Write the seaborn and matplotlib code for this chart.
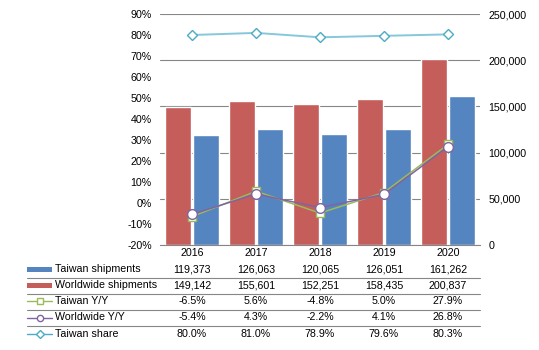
import numpy as np
import pandas as pd
import seaborn as sns
import matplotlib.pyplot as plt
import matplotlib.transforms as mtransforms
from matplotlib.lines import Line2D
from matplotlib.patches import Rectangle
from matplotlib.ticker import FuncFormatter, MultipleLocator

# --- Data ---
years = ["2016", "2017", "2018", "2019", "2020"]
taiwan_shipments = [119373, 126063, 120065, 126051, 161262]
worldwide_shipments = [149142, 155601, 152251, 158435, 200837]
taiwan_yy = [-6.5, 5.6, -4.8, 5.0, 27.9]
worldwide_yy = [-5.4, 4.3, -2.2, 4.1, 26.8]
taiwan_share = [80.0, 81.0, 78.9, 79.6, 80.3]

BLUE = "#5585C0"
RED = "#C55D5A"
GREEN = "#9BBB59"
PURPLE = "#8064A2"
CYAN = "#4BACC6"
CYAN_LINE = "#86C8DA"
GRID = "#868686"

sns.set_theme(style="white")
plt.rcParams['font.family'] = ['Liberation Sans', 'DejaVu Sans']
plt.rcParams['text.color'] = 'black'
plt.rcParams['xtick.color'] = 'black'
plt.rcParams['ytick.color'] = 'black'
FS = 7.7

W, H = 539, 350
fig = plt.figure(figsize=(W / 100, H / 100), dpi=100)
ax = fig.add_axes([160 / W, 1 - 245 / H, 320 / W, 231 / H])

# --- Bars (right-hand scale) ---
bars = pd.DataFrame({
    "year": years * 2,
    "shipments": worldwide_shipments + taiwan_shipments,
    "series": ["Worldwide shipments"] * len(years) + ["Taiwan shipments"] * len(years),
})
sns.barplot(data=bars, x="year", y="shipments", hue="series",
            palette=[RED, BLUE], width=0.88, gap=0.06, saturation=1,
            legend=False, ax=ax)

# twin axis for the percentage lines (twinx moves ax ticks to the left, so do it first)
ax2 = ax.twinx()

ax.set_xlim(-0.5, len(years) - 0.5)
ax.set_ylim(0, 250000)
ax.yaxis.set_major_locator(MultipleLocator(50000))
ax.yaxis.set_major_formatter(FuncFormatter(lambda v, p: f"{v:,.0f}"))
ax.yaxis.tick_right()
ax.yaxis.set_label_position('right')
ax.grid(axis='y', color=GRID, linewidth=0.8)
ax.set_axisbelow(True)
ax.set_xlabel("")
ax.set_ylabel("")
for s in ["top", "left", "right"]:
    ax.spines[s].set_visible(False)
ax.spines["bottom"].set_color(GRID)
ax.spines["bottom"].set_linewidth(0.8)
ax.tick_params(axis='x', length=0, pad=2, labelsize=FS)
ax.tick_params(axis='y', length=0, pad=6, labelsize=FS)

# --- Lines (left-hand percent scale) ---
ax2.yaxis.tick_left()
ax2.yaxis.set_label_position('left')
x = np.arange(len(years))
ax2.plot(x, taiwan_yy, color=GREEN, lw=1.1, marker='s', ms=6,
         mfc='white', mec=GREEN, mew=1)
ax2.plot(x, worldwide_yy, color=PURPLE, lw=1.1, marker='o', ms=7,
         mfc='white', mec=PURPLE, mew=1)
ax2.plot(x, taiwan_share, color=CYAN_LINE, lw=1.4, marker='D', ms=5.5,
         mfc='white', mec=CYAN, mew=1)
ax2.set_ylim(-20, 90)
ax2.yaxis.set_major_locator(MultipleLocator(10))
ax2.yaxis.set_major_formatter(FuncFormatter(lambda v, p: f"{v:.0f}%"))
ax2.tick_params(axis='y', length=0, pad=6, labelsize=FS)
ax2.grid(False)
for s in ax2.spines.values():
    s.set_visible(False)

# --- Data table below the chart ---
trans = mtransforms.blended_transform_factory(ax.transData, fig.transFigure)
rows = [
    ("Taiwan shipments", [f"{v:,}" for v in taiwan_shipments], "bar", BLUE, None),
    ("Worldwide shipments", [f"{v:,}" for v in worldwide_shipments], "bar", RED, None),
    ("Taiwan Y/Y", [f"{v:.1f}%" for v in taiwan_yy], "line", GREEN, 's'),
    ("Worldwide Y/Y", [f"{v:.1f}%" for v in worldwide_yy], "line", PURPLE, 'o'),
    ("Taiwan share", [f"{v:.1f}%" for v in taiwan_share], "line", CYAN, 'D'),
]
row_y = [269, 285, 301, 317.5, 334]
sep_y = [277.5, 293.5, 309.5, 326]

for (label, vals, kind, col, mk), ry in zip(rows, row_y):
    yf = 1 - ry / H
    for xi, s in zip(x, vals):
        ax.text(xi, yf, s, transform=trans, ha='center', va='center',
                fontsize=FS, clip_on=False)
    fig.text(55 / W, yf, label, ha='left', va='center', fontsize=FS)
    if kind == "bar":
        fig.add_artist(Rectangle((27 / W, 1 - (ry + 2.5) / H), 25 / W, 5 / H,
                                 transform=fig.transFigure, color=col, lw=0))
    else:
        fig.add_artist(Line2D([27 / W, 52 / W], [yf, yf], transform=fig.transFigure,
                              color=col, lw=1))
        fig.add_artist(Line2D([39.5 / W], [yf], transform=fig.transFigure,
                              color=col, marker=mk, ms=4.5 if mk != 'D' else 4,
                              mfc='white', mec=col, mew=1, lw=0))

for sy in sep_y:
    fig.add_artist(Line2D([27 / W, 480 / W], [1 - sy / H] * 2,
                          transform=fig.transFigure, color=GRID, lw=0.8))

fig.savefig("out.png", dpi=100)
